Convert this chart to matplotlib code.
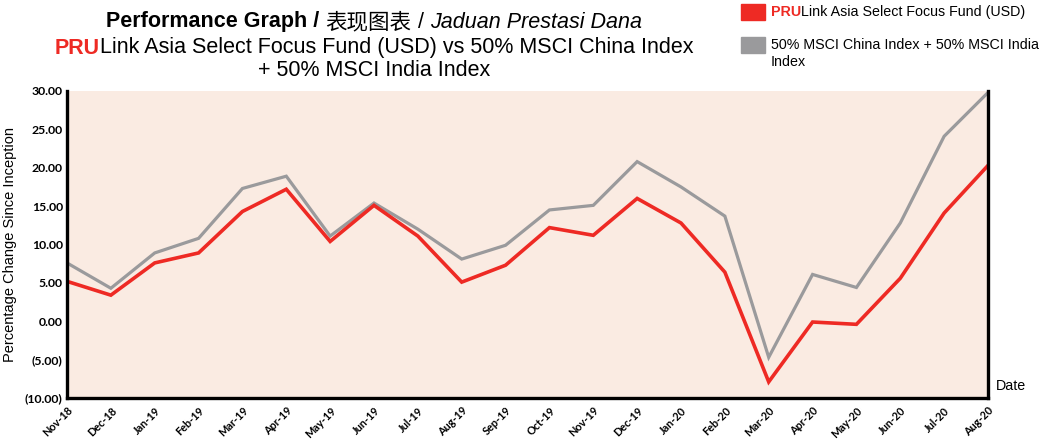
import matplotlib
matplotlib.use("Agg")
import matplotlib.pyplot as plt
from matplotlib.patches import Rectangle
from matplotlib.ticker import FuncFormatter

months = ["Nov-18", "Dec-18", "Jan-19", "Feb-19", "Mar-19", "Apr-19", "May-19", "Jun-19",
          "Jul-19", "Aug-19", "Sep-19", "Oct-19", "Nov-19", "Dec-19", "Jan-20", "Feb-20",
          "Mar-20", "Apr-20", "May-20", "Jun-20", "Jul-20", "Aug-20"]
fund = [5.2, 3.4, 7.6, 8.9, 14.3, 17.2, 10.4, 15.1, 11.1, 5.1, 7.3, 12.2, 11.2, 16.0,
        12.8, 6.4, -7.9, -0.1, -0.4, 5.6, 14.1, 20.3]
bench = [7.6, 4.3, 8.9, 10.8, 17.3, 18.9, 11.1, 15.4, 12.0, 8.1, 9.9, 14.5, 15.1, 20.8,
         17.5, 13.7, -4.7, 6.1, 4.4, 12.8, 24.1, 29.8]

RED = "#EE2A24"
GRAY = "#9A9A9C"
BG = "#FAEBE2"
W, H = 1041, 441

fig = plt.figure(figsize=(W / 100, H / 100), dpi=100)
ax = fig.add_axes([67 / W, 1 - 398 / H, (988 - 67) / W, (398 - 91) / H])
ax.set_facecolor(BG)
x = list(range(len(months)))
ax.plot(x, bench, color=GRAY, lw=2.3, solid_joinstyle="miter")
ax.plot(x, fund, color=RED, lw=2.6, solid_joinstyle="miter")
ax.set_xlim(0, len(months) - 1)
ax.set_ylim(-10, 30)
ax.set_yticks(range(-10, 31, 5))
ax.yaxis.set_major_formatter(FuncFormatter(lambda v, p: f"({abs(v):.2f})" if v < 0 else f"{v:.2f}"))
ax.set_xticks(x)
ax.set_xticklabels(months, rotation=45, ha="right", rotation_mode="anchor")
for lab in ax.get_yticklabels():
    lab.set_fontfamily("Lato"); lab.set_fontweight("bold"); lab.set_fontsize(8.8)
for lab in ax.get_xticklabels():
    lab.set_fontfamily("Lato"); lab.set_fontweight("bold"); lab.set_fontsize(7.8)
ax.tick_params(axis="both", length=0, pad=3)
ax.tick_params(axis="x", pad=5)
ax.spines["top"].set_visible(False)
for s in ["left", "bottom", "right"]:
    ax.spines[s].set_linewidth(2.4)
    ax.spines[s].set_color("black")

fig.text(10 / W, 1 - 244 / H, "Percentage Change Since Inception", rotation=90,
         ha="center", va="center", fontsize=10.5, family="Liberation Sans")
fig.text(996 / W, 1 - 386 / H, "Date", ha="left", va="center", fontsize=10.3, family="Liberation Sans")

# Title (multi-style), centred
fig.canvas.draw()
renderer = fig.canvas.get_renderer()

def line(pieces, cx, cy, size):
    objs = []
    for txt, kw in pieces:
        t = fig.text(0, cy, txt, fontsize=size, va="center", ha="left", **kw)
        objs.append(t)
    widths = [t.get_window_extent(renderer).width for t in objs]
    total = sum(widths)
    xpix = cx - total / 2
    for t, w in zip(objs, widths):
        t.set_x(xpix / W)
        xpix += w

fam = ["Liberation Sans", "Noto Sans CJK SC"]
TS = 15.5
line([("Performance Graph / ", dict(family=fam, fontweight="bold")),
      ("表现图表", dict(family=["Noto Sans CJK SC"])),
      (" / ", dict(family=fam)),
      ("Jaduan Prestasi Dana", dict(family=fam, style="italic"))],
     374, 1 - 22 / H, TS)
line([("PRU", dict(family=fam, fontweight="bold", color=RED)),
      ("Link Asia Select Focus Fund (USD) vs 50% MSCI China Index", dict(family=fam))],
     374, 1 - 48 / H, TS)
line([("+ 50% MSCI India Index", dict(family=fam))], 374, 1 - 70 / H, TS)

# Legend
LS = 10.3
fig.add_artist(Rectangle((741 / W, 1 - 20 / H), 24 / W, 16 / H, color=RED, transform=fig.transFigure))
fig.add_artist(Rectangle((741 / W, 1 - 53 / H), 24 / W, 16 / H, color=GRAY, transform=fig.transFigure))
t1 = fig.text(771 / W, 1 - 12 / H, "PRU", color=RED, fontweight="bold", fontsize=LS,
              family="Liberation Sans", va="center", ha="left")
w1 = t1.get_window_extent(renderer).width
fig.text((771 + w1) / W, 1 - 12 / H, "Link Asia Select Focus Fund (USD)", fontsize=LS,
         family="Liberation Sans", va="center", ha="left")
fig.text(771 / W, 1 - 45 / H, "50% MSCI China Index + 50% MSCI India", fontsize=LS,
         family="Liberation Sans", va="center", ha="left")
fig.text(771 / W, 1 - 62 / H, "Index", fontsize=LS,
         family="Liberation Sans", va="center", ha="left")

fig.savefig("out.png", dpi=100)
